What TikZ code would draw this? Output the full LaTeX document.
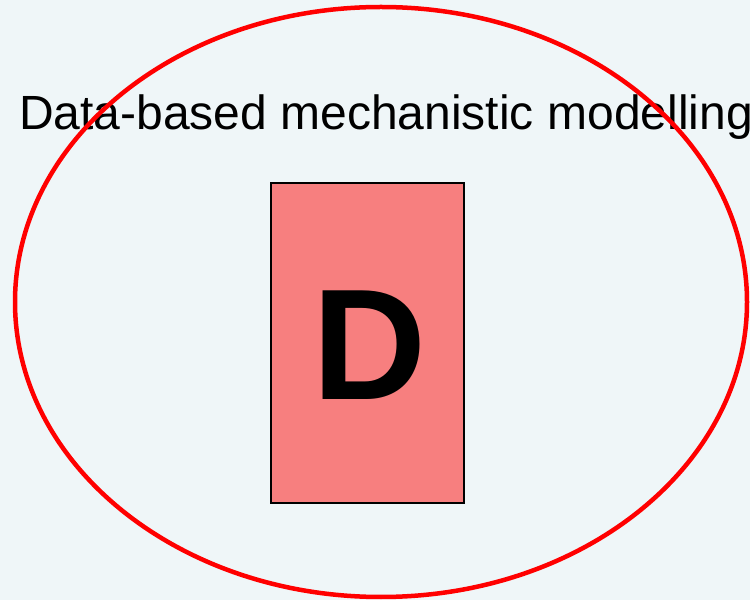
\documentclass[tikz,border=0pt]{standalone}
\usepackage{fontspec}
\setmainfont{Liberation Sans}
\definecolor{bgcol}{HTML}{EFF6F8}
\definecolor{boxred}{HTML}{F77F7F}
\definecolor{ringred}{HTML}{FF0000}
\begin{document}
\begin{tikzpicture}[x=1pt,y=1pt,
  boxstyle/.style={draw=black,line width=1.2pt,fill=boxred,minimum width=193pt,minimum height=320pt,inner sep=0pt},
  ringstyle/.style={draw=ringred,line width=4.5pt}]
\useasboundingbox (0,0) rectangle (750,600);
\fill[bgcol] (0,0) rectangle (750,600);
\node[boxstyle] (box) at (367.5,257) {};
\node[inner sep=0pt,font=\fontsize{158}{158}\selectfont\bfseries] (d) at (370,255) {D};
\node[inner sep=0pt,anchor=base west,font=\fontsize{48}{48}\selectfont] (title) at (19,470) {Data-based mechanistic modelling};
\draw[ringstyle] (381,298) ellipse [x radius=366, y radius=295];
\end{tikzpicture}
\end{document}
